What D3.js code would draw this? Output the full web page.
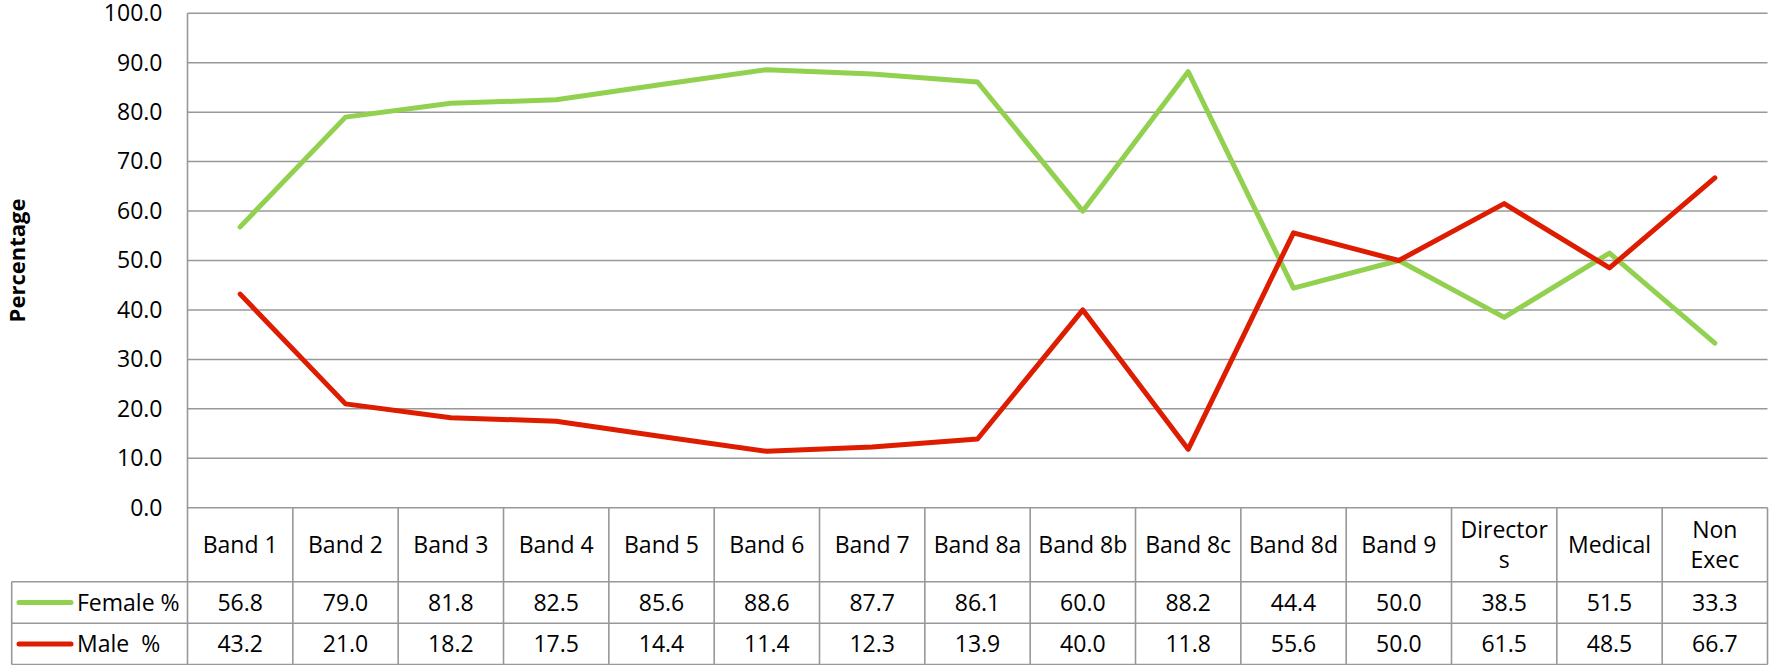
<!DOCTYPE html>
<html><head><meta charset="utf-8">
<script src="https://cdn.jsdelivr.net/npm/d3@7"></script>
<style>
html,body{margin:0;padding:0;background:#fff;}
svg text{font-family:"Open Sans",sans-serif;fill:#000;}
</style></head>
<body>
<svg id="chart" width="1769" height="665"></svg>
<script>
const categories = ["Band 1","Band 2","Band 3","Band 4","Band 5","Band 6","Band 7","Band 8a","Band 8b","Band 8c","Band 8d","Band 9","Directors","Medical","Non Exec"];
const categoryLines = [["Band 1"],["Band 2"],["Band 3"],["Band 4"],["Band 5"],["Band 6"],["Band 7"],["Band 8a"],["Band 8b"],["Band 8c"],["Band 8d"],["Band 9"],["Director","s"],["Medical"],["Non","Exec"]];
const female = [56.8,79.0,81.8,82.5,85.6,88.6,87.7,86.1,60.0,88.2,44.4,50.0,38.5,51.5,33.3];
const male = [43.2,21.0,18.2,17.5,14.4,11.4,12.3,13.9,40.0,11.8,55.6,50.0,61.5,48.5,66.7];
const seriesNames = ["Female %","Male  %"];
const seriesColors = ["#92d050","#dd1c00"];
const yTicks = [0,10,20,30,40,50,60,70,80,90,100];
const yTitle = "Percentage";

const svg = d3.select("#chart");
const L = 187.5, R = 1767.5, T = 13.3, B = 507.7;
const rowCat = 581.7, rowF = 623.3, rowM = 664.5, legL = 11.7;
const grid = "#989898";

const x = d3.scaleBand().domain(categories).range([L, R]).padding(0);
const y = d3.scaleLinear().domain([0,100]).range([B, T]);

// gridlines
svg.append("g").selectAll("line").data(yTicks.filter(d=>d>0)).join("line")
  .attr("x1", L).attr("x2", R).attr("y1", d=>y(d)).attr("y2", d=>y(d))
  .attr("stroke", grid).attr("stroke-width", 1.5);

// y axis
const yAxis = d3.axisLeft(y).tickValues(yTicks).tickFormat(d3.format(".1f")).tickSize(0).tickPadding(25);
const ga = svg.append("g").attr("transform", `translate(${L},0)`).call(yAxis);
ga.select(".domain").remove();
ga.selectAll("text").attr("font-size", 23).attr("font-family", "'Open Sans',sans-serif").attr("fill","#000");

// y title
svg.append("text").attr("transform", `translate(25,${(T+B)/2}) rotate(-90)`)
  .attr("text-anchor","middle").attr("font-size",22).attr("font-weight","bold").text(yTitle);

// table lines
const tbl = svg.append("g").attr("stroke", grid).attr("stroke-width", 1.6);
tbl.append("line").attr("x1", L).attr("x2", R).attr("y1", B).attr("y2", B);
[rowCat, rowF, rowM].forEach(yy => tbl.append("line").attr("x1", legL).attr("x2", R).attr("y1", yy).attr("y2", yy));
tbl.append("line").attr("x1", L).attr("x2", L).attr("y1", T).attr("y2", rowM);
tbl.append("line").attr("x1", legL).attr("x2", legL).attr("y1", rowCat).attr("y2", rowM);
tbl.selectAll(".vd").data(categories).join("line").attr("class","vd")
  .attr("x1", d=>x(d)+x.bandwidth()).attr("x2", d=>x(d)+x.bandwidth()).attr("y1", B).attr("y2", rowM);

// category labels
const catG = svg.append("g");
categories.forEach((c,i) => {
  const lines = categoryLines[i];
  const cx = x(c) + x.bandwidth()/2;
  const cy = (B + rowCat)/2;
  const lh = 30;
  lines.forEach((t,j) => {
    catG.append("text").attr("x", cx).attr("y", cy + (j - (lines.length-1)/2)*lh)
      .attr("dy","0.36em").attr("text-anchor","middle").attr("font-size",23).text(t);
  });
});

// values rows
const rows = [female, male];
const rowY = [(rowCat+rowF)/2, (rowF+rowM)/2];
rows.forEach((vals, r) => {
  svg.append("g").selectAll("text").data(vals).join("text")
    .attr("x", (d,i)=>x(categories[i])+x.bandwidth()/2).attr("y", rowY[r]).attr("dy","0.36em")
    .attr("text-anchor","middle").attr("font-size",23).text(d=>d3.format(".1f")(d));
  svg.append("line").attr("x1", 19).attr("x2", 71).attr("y1", rowY[r]).attr("y2", rowY[r])
    .attr("stroke", seriesColors[r]).attr("stroke-width", 5).attr("stroke-linecap","round");
  svg.append("text").attr("x", 77).attr("y", rowY[r]).attr("dy","0.36em").attr("font-size",23)
    .attr("xml:space","preserve").style("white-space","pre").text(seriesNames[r]);
});

// lines
const line = d3.line().x((d,i)=>x(categories[i])+x.bandwidth()/2).y(d=>y(d));
rows.forEach((vals, r) => {
  svg.append("path").datum(vals).attr("d", line).attr("fill","none")
    .attr("stroke", seriesColors[r]).attr("stroke-width", 5)
    .attr("stroke-linejoin","round").attr("stroke-linecap","round");
});
</script>
</body></html>
